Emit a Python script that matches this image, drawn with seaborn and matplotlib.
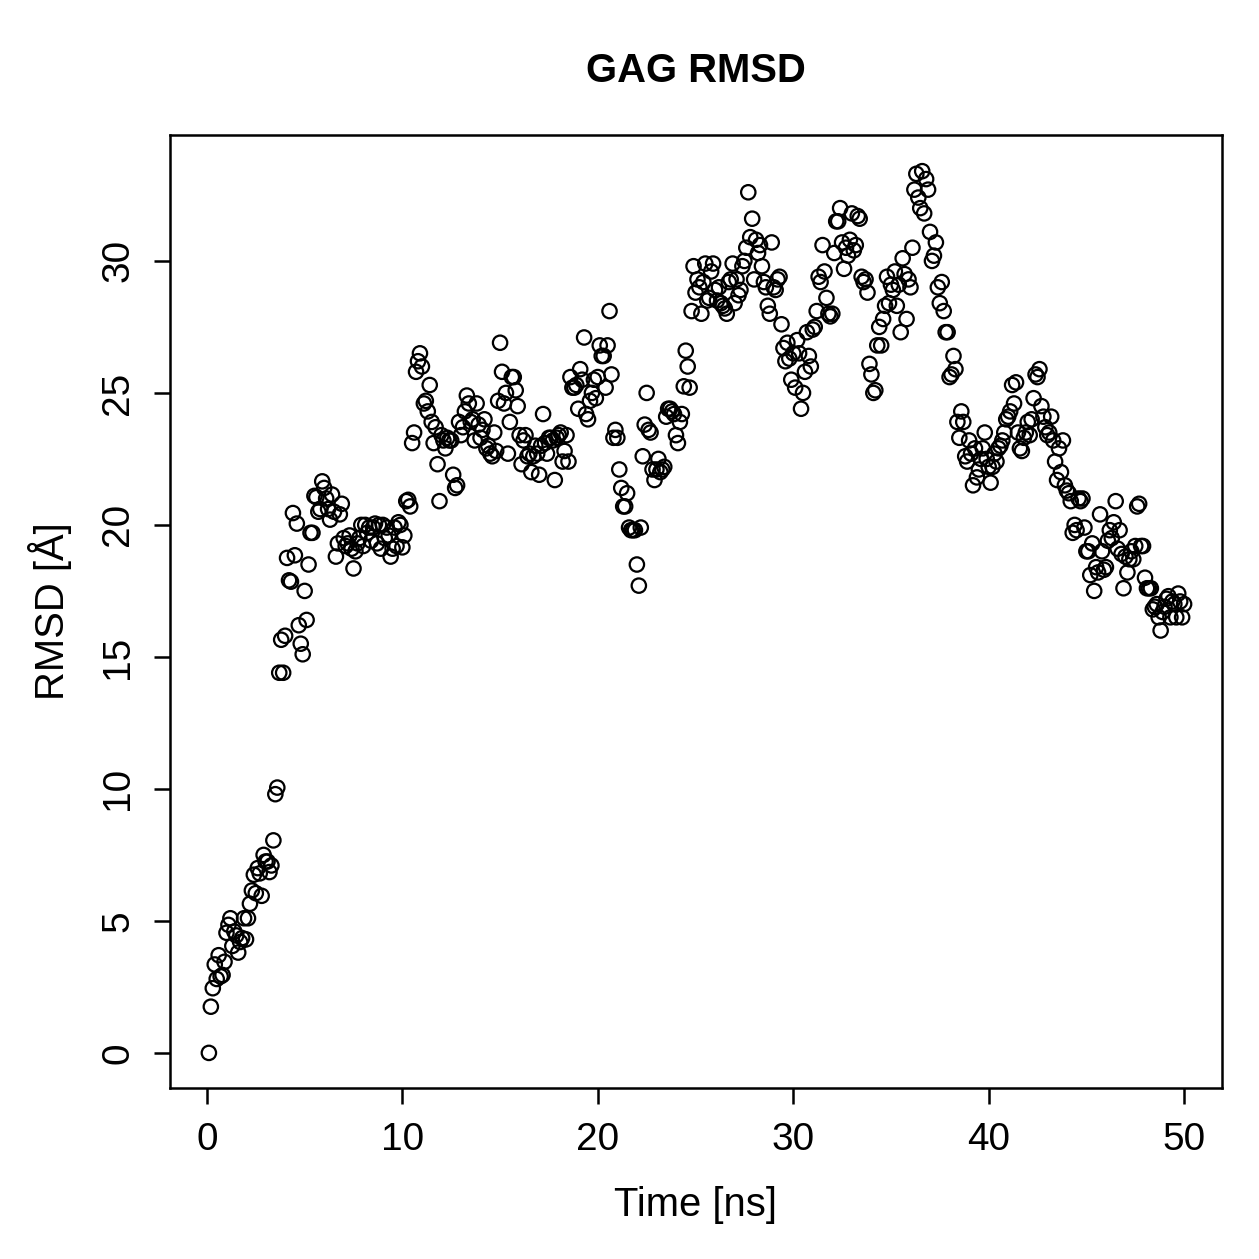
import numpy as np
import pandas as pd
import matplotlib
matplotlib.use("Agg")
import matplotlib.pyplot as plt
import seaborn as sns

# RMSD values (Å), one per 0.1 ns frame
rmsd_blocks = [
    [0.0, 1.75, 2.45, 3.35, 2.8, 3.7, 2.9, 2.95, 3.45, 4.55],
    [4.85, 5.1, 4.05, 4.6, 4.45, 3.8, 4.2, 4.35, 5.1, 4.3],
    [5.1, 5.65, 6.15, 6.75, 6.05, 7.0, 6.8, 5.95, 7.5, 7.25],
    [7.25, 6.85, 7.1, 8.05, 9.8, 10.05, 14.4, 15.65, 14.4, 15.8],
    [18.75, 17.9, 17.85, 20.45, 18.85, 20.05, 16.2, 15.5, 15.1, 17.5],
    [16.4, 18.5, 19.7, 19.7, 21.1, 21.05, 20.5, 20.6, 21.65, 21.4],
    [21.0, 20.6, 20.2, 21.15, 20.5, 18.8, 19.3, 20.4, 20.8, 19.5],
    [19.2, 19.3, 19.6, 19.1, 18.35, 19.0, 19.3, 19.5, 20.0, 19.2],
    [20.0, 19.7, 19.9, 19.4, 19.9, 20.05, 19.3, 20.0, 19.1, 20.0],
    [19.5, 19.9, 19.6, 18.8, 19.1, 19.9, 19.2, 20.1, 20.0, 19.15],
    [19.6, 20.9, 20.95, 20.7, 23.1, 23.5, 25.8, 26.2, 26.5, 26.0],
    [24.6, 24.7, 24.3, 25.3, 23.9, 23.1, 23.7, 22.3, 20.9, 23.4],
    [23.2, 22.9, 23.3, 23.2, 23.2, 21.9, 21.4, 21.5, 23.9, 23.4],
    [23.7, 24.3, 24.9, 24.6, 23.9, 24.0, 23.2, 24.6, 23.8, 23.3],
    [23.6, 24.0, 22.9, 23.0, 22.7, 22.6, 23.5, 22.8, 24.7, 26.9],
    [25.8, 24.6, 25.0, 22.7, 23.9, 25.6, 25.6, 25.1, 24.5, 23.4],
    [22.3, 23.2, 23.4, 22.6, 22.7, 22.0, 22.6, 23.0, 22.7, 21.9],
    [23.0, 24.2, 23.1, 22.7, 23.3, 23.3, 23.2, 21.7, 23.3, 23.4],
    [23.5, 22.4, 22.8, 23.4, 22.4, 25.6, 25.2, 25.2, 25.3, 24.4],
    [25.9, 25.5, 27.1, 24.2, 24.0, 24.7, 25.0, 25.5, 24.8, 25.6],
    [26.8, 26.4, 26.4, 25.2, 26.8, 28.1, 25.7, 23.3, 23.6, 23.3],
    [22.1, 21.4, 20.7, 20.7, 21.2, 19.9, 19.8, 19.8, 19.8, 18.5],
    [17.7, 19.9, 22.6, 23.8, 25.0, 23.6, 23.5, 22.1, 21.7, 22.1],
    [22.5, 22.0, 22.1, 22.2, 24.1, 24.4, 24.4, 24.3, 24.2, 23.4],
    [23.1, 23.9, 24.2, 25.25, 26.6, 26.0, 25.2, 28.1, 29.8, 28.8],
    [29.3, 29.0, 28.0, 29.2, 29.9, 28.5, 28.6, 29.6, 29.9, 28.9],
    [28.5, 29.0, 28.4, 28.3, 28.2, 28.0, 29.2, 29.3, 29.9, 28.4],
    [29.3, 28.7, 28.9, 29.8, 30.0, 30.5, 32.6, 30.9, 31.6, 29.3],
    [30.8, 30.3, 30.6, 29.8, 29.2, 29.0, 28.3, 28.0, 30.7, 29.0],
    [28.9, 29.3, 29.4, 27.6, 26.7, 26.2, 26.9, 26.3, 25.5, 26.5],
    [25.2, 27.0, 26.5, 24.4, 25.0, 25.8, 27.3, 26.4, 26.0, 27.4],
    [27.5, 28.1, 29.4, 29.2, 30.6, 29.6, 28.6, 28.0, 27.9, 28.0],
    [30.3, 31.5, 31.5, 32.0, 30.7, 29.7, 30.5, 30.2, 30.8, 31.8],
    [30.4, 30.6, 31.7, 31.6, 29.4, 29.2, 29.3, 28.8, 26.1, 25.7],
    [25.0, 25.1, 26.8, 27.5, 26.8, 27.8, 28.3, 29.4, 28.4, 29.1],
    [28.9, 29.6, 28.3, 29.1, 27.3, 30.1, 29.5, 27.8, 29.3, 29.0],
    [30.5, 32.7, 33.3, 32.4, 32.0, 33.4, 31.8, 33.1, 32.7, 31.1],
    [30.0, 30.2, 30.7, 29.0, 28.4, 29.2, 28.1, 27.3, 27.3, 25.6],
    [25.7, 26.4, 25.9, 23.9, 23.3, 24.3, 23.9, 22.6, 22.4, 23.2],
    [22.7, 21.5, 22.9, 21.8, 22.1, 22.5, 22.9, 23.5, 22.5, 22.2],
    [21.6, 22.2, 22.7, 22.4, 22.9, 23.0, 23.2, 23.5, 24.0, 24.1],
    [24.3, 25.3, 24.6, 25.4, 23.5, 22.9, 22.8, 23.3, 23.5, 23.9],
    [23.4, 24.0, 24.8, 25.7, 25.6, 25.9, 24.5, 24.1, 23.7, 23.4],
    [23.5, 24.1, 23.2, 22.4, 21.7, 22.9, 22.0, 23.2, 21.5, 21.3],
    [21.2, 20.9, 19.7, 20.0, 19.8, 21.0, 20.9, 21.0, 19.9, 19.0],
    [19.0, 18.1, 19.3, 17.5, 18.4, 18.2, 20.4, 19.0, 18.3, 18.4],
    [19.4, 19.8, 19.5, 20.1, 20.9, 19.1, 19.8, 18.9, 17.6, 18.8],
    [18.2, 18.7, 19.0, 18.7, 19.2, 20.7, 20.8, 19.2, 19.2, 18.0],
    [17.6, 17.6, 17.6, 16.8, 16.9, 17.0, 16.5, 16.0, 16.7, 16.9],
    [17.2, 17.3, 16.5, 17.1, 17.0, 16.5, 17.4, 17.1, 16.5, 17.0],
]
rmsd = [v for block in rmsd_blocks for v in block]
frames = list(range(1, len(rmsd) + 1))
time_ns = [f * 0.1 for f in frames]

x_ticks = [0, 10, 20, 30, 40, 50]
y_ticks = [0, 5, 10, 15, 20, 25, 30]
title = "GAG RMSD"
x_label = "Time [ns]"
y_label = "RMSD [Å]"

df = pd.DataFrame({"time": time_ns, "rmsd": rmsd})

sns.set_theme(style="ticks")
plt.rcParams["font.family"] = ["Liberation Sans", "DejaVu Sans"]
plt.rcParams["text.color"] = "black"
plt.rcParams["axes.labelcolor"] = "black"
plt.rcParams["xtick.color"] = "black"
plt.rcParams["ytick.color"] = "black"

fig = plt.figure(figsize=(1259 / 180, 1259 / 180), dpi=180)
ax = fig.add_axes([170 / 1259, 1 - 1088 / 1259, (1222 - 170) / 1259, (1088 - 135) / 1259])

sns.scatterplot(data=df, x="time", y="rmsd", ax=ax, marker="o", s=33,
                facecolors="none", edgecolor="black", linewidth=0.9, legend=False)

ax.set_xlim(-1.89, 51.94)
ax.set_ylim(-1.33, 34.77)
ax.set_xticks(x_ticks)
ax.set_yticks(y_ticks)
ax.set_xticklabels([str(t) for t in x_ticks], fontsize=15.5)
ax.set_yticklabels([str(t) for t in y_ticks], fontsize=15.5, rotation=90, va="center")
for sp in ax.spines.values():
    sp.set_visible(True)
    sp.set_color("black")
    sp.set_linewidth(1.0)
ax.tick_params(axis="both", direction="out", length=6.5, width=1.0, color="black", pad=7)
ax.set_xlabel(x_label, fontsize=16, labelpad=11.5)
ax.set_ylabel(y_label, fontsize=16, labelpad=11.5)
ax.set_title(title, fontsize=16, fontweight="bold", pad=21)

fig.savefig("out.png", dpi=180, facecolor="white")
